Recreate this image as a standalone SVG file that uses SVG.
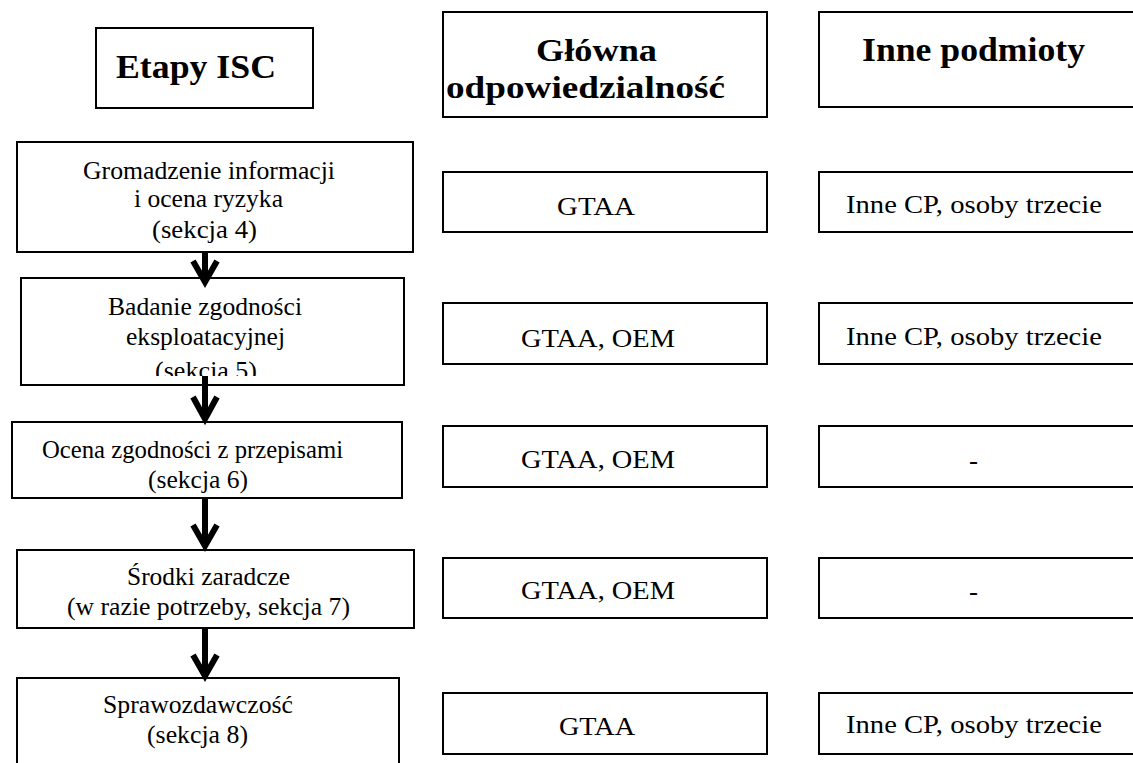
<svg xmlns="http://www.w3.org/2000/svg" width="1133" height="763" viewBox="0 0 1133 763">
<defs>
<style>
.box{fill:#fff;stroke:#000;stroke-width:2}
.t{font-family:"Liberation Serif","Times New Roman",serif;font-size:26px;fill:#000}
.h{font-family:"Liberation Serif","Times New Roman",serif;font-size:34px;font-weight:bold;fill:#000}
.h2{font-family:"Liberation Serif","Times New Roman",serif;font-size:32px;font-weight:bold;fill:#000}
.sh{stroke:#000;stroke-width:6;fill:none}
.hd{stroke:#000;stroke-width:6;fill:none;stroke-linejoin:miter;stroke-miterlimit:10}
</style>
<clipPath id="clip2"><rect x="22" y="279" width="381" height="97"/></clipPath>
</defs>
<rect width="1133" height="763" fill="#fff"/>
<g id="hdr-etapy"><rect class="box" x="96" y="28" width="217" height="80"/><text class="h" x="116" y="78" textLength="160" lengthAdjust="spacingAndGlyphs">Etapy ISC</text></g>
<g id="hdr-glowna"><rect class="box" x="443" y="12" width="324" height="105"/><text class="h2" x="536" y="61" textLength="121" lengthAdjust="spacingAndGlyphs">Główna</text><text class="h2" x="446" y="98" textLength="279" lengthAdjust="spacingAndGlyphs">odpowiedzialność</text></g>
<g id="hdr-inne"><rect class="box" x="819" y="12" width="330" height="95"/><text class="h" x="862" y="61" textLength="223" lengthAdjust="spacingAndGlyphs">Inne podmioty</text></g>

<g id="step1"><rect class="box" x="17" y="142" width="396" height="110"/>
<text class="t" x="83" y="179" textLength="252" lengthAdjust="spacingAndGlyphs">Gromadzenie informacji</text>
<text class="t" x="134" y="207" textLength="149" lengthAdjust="spacingAndGlyphs">i ocena ryzyka</text>
<text class="t" x="152" y="238" textLength="105" lengthAdjust="spacingAndGlyphs">(sekcja 4)</text></g>
<g id="step2"><rect class="box" x="21" y="278" width="383" height="107"/>
<text class="t" x="108" y="315" textLength="194" lengthAdjust="spacingAndGlyphs">Badanie zgodności</text>
<text class="t" x="126" y="345" textLength="159" lengthAdjust="spacingAndGlyphs">eksploatacyjnej</text>
<text class="t" x="155" y="379" textLength="102" lengthAdjust="spacingAndGlyphs" clip-path="url(#clip2)">(sekcja 5)</text></g>
<g id="step3"><rect class="box" x="12" y="422" width="390" height="76"/>
<text class="t" x="42" y="458" textLength="301" lengthAdjust="spacingAndGlyphs">Ocena zgodności z przepisami</text>
<text class="t" x="148" y="488" textLength="100" lengthAdjust="spacingAndGlyphs">(sekcja 6)</text></g>
<g id="step4"><rect class="box" x="17" y="550" width="397" height="78"/>
<text class="t" x="127" y="585" textLength="163" lengthAdjust="spacingAndGlyphs">Środki zaradcze</text>
<text class="t" x="67" y="615" textLength="283" lengthAdjust="spacingAndGlyphs">(w razie potrzeby, sekcja 7)</text></g>
<g id="step5"><rect class="box" x="17" y="678" width="382" height="100"/>
<text class="t" x="103" y="713" textLength="190" lengthAdjust="spacingAndGlyphs">Sprawozdawczość</text>
<text class="t" x="147" y="743" textLength="101" lengthAdjust="spacingAndGlyphs">(sekcja 8)</text></g>

<g id="resp1"><rect class="box" x="443" y="172" width="324" height="60"/><text class="t" x="557" y="215" textLength="78" lengthAdjust="spacingAndGlyphs">GTAA</text></g>
<g id="resp2"><rect class="box" x="443" y="303" width="324" height="61"/><text class="t" x="521" y="347" textLength="154" lengthAdjust="spacingAndGlyphs">GTAA, OEM</text></g>
<g id="resp3"><rect class="box" x="443" y="426" width="324" height="61"/><text class="t" x="521" y="468" textLength="154" lengthAdjust="spacingAndGlyphs">GTAA, OEM</text></g>
<g id="resp4"><rect class="box" x="443" y="558" width="324" height="60"/><text class="t" x="521" y="599" textLength="154" lengthAdjust="spacingAndGlyphs">GTAA, OEM</text></g>
<g id="resp5"><rect class="box" x="443" y="693" width="324" height="61"/><text class="t" x="559" y="735" textLength="76" lengthAdjust="spacingAndGlyphs">GTAA</text></g>

<g id="other1"><rect class="box" x="819" y="172" width="330" height="60"/><text class="t" x="846" y="213" textLength="256" lengthAdjust="spacingAndGlyphs">Inne CP, osoby trzecie</text></g>
<g id="other2"><rect class="box" x="819" y="303" width="330" height="61"/><text class="t" x="846" y="345" textLength="256" lengthAdjust="spacingAndGlyphs">Inne CP, osoby trzecie</text></g>
<g id="other3"><rect class="box" x="819" y="426" width="330" height="61"/><text class="t" x="969" y="469" textLength="9" lengthAdjust="spacingAndGlyphs">-</text></g>
<g id="other4"><rect class="box" x="819" y="558" width="330" height="60"/><text class="t" x="969" y="600" textLength="9" lengthAdjust="spacingAndGlyphs">-</text></g>
<g id="other5"><rect class="box" x="819" y="693" width="330" height="61"/><text class="t" x="846" y="733" textLength="256" lengthAdjust="spacingAndGlyphs">Inne CP, osoby trzecie</text></g>

<g id="connectors">
<line class="sh" x1="205" y1="252" x2="205" y2="280"/><polyline class="hd" points="193,261 205,282 217,261"/>
<line class="sh" x1="205" y1="376" x2="205" y2="417"/><polyline class="hd" points="193,397 205,419 217,397"/>
<line class="sh" x1="205" y1="498" x2="205" y2="544"/><polyline class="hd" points="193,525 205,546 217,525"/>
<line class="sh" x1="205" y1="628" x2="205" y2="674"/><polyline class="hd" points="193,655 205,676 217,655"/>
</g>
</svg>
